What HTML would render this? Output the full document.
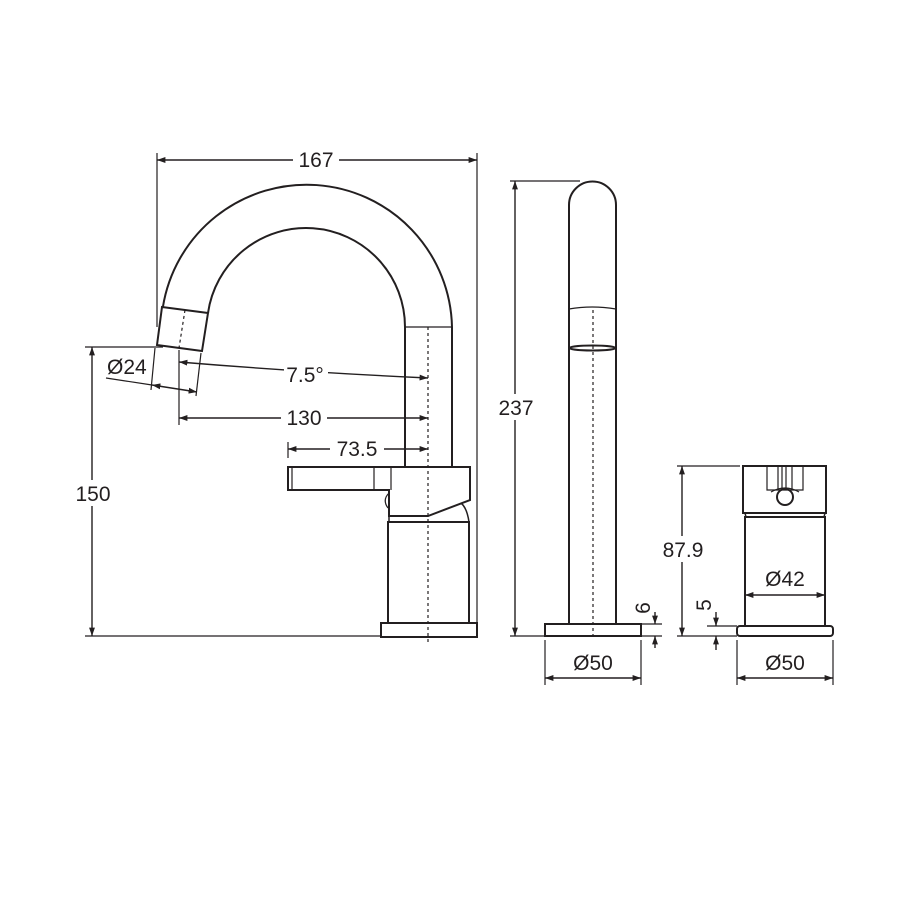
<!DOCTYPE html>
<html><head><style>
html,body{margin:0;padding:0;background:#fff;}
svg{display:block;}
text{font-family:"Liberation Sans",sans-serif;font-size:21px;fill:#231f20;}
</style></head><body>
<svg width="900" height="900" viewBox="0 0 900 900" xmlns="http://www.w3.org/2000/svg">
<defs>
<marker id="a" viewBox="0 0 10 10" refX="10" refY="5" markerWidth="6" markerHeight="6" orient="auto-start-reverse"><path d="M0,1.5 L10,5 L0,8.5 z" fill="#231f20"/></marker>
</defs>
<g stroke="#231f20" stroke-width="2" fill="none">
<!-- left mixer spout -->
<path d="M162.9,307 A145.5,145.5 0 0 1 452,327 L452,467"/>
<path d="M208,313 A99,99 0 0 1 405,327 L405,467"/>
<line x1="405" y1="327" x2="452" y2="327" stroke-width="1.2"/>
<path d="M162,307 L208,313 L202,351 L157,345 Z"/>
<line x1="185" y1="310" x2="179" y2="348" stroke-dasharray="3,3" stroke-width="1.2"/>
<!-- handle/body -->
<path d="M288,467 L470,467 L470,500 L428,516 L389,516 L389,490 L288,490 Z"/>
<line x1="374" y1="467" x2="374" y2="490" stroke-width="1.2"/>
<line x1="391" y1="467" x2="391" y2="490" stroke-width="1.2"/>
<line x1="292" y1="467" x2="292" y2="490" stroke-width="1.2"/>
<path d="M389,493 Q382,500 388,508" stroke-width="1.2"/>
<path d="M389,516 L389,522 L469,522 Q467,508 461,503" stroke-width="1.5"/>
<rect x="388" y="522" width="81" height="101"/>
<rect x="381" y="623" width="96" height="14"/>
<line x1="428" y1="327" x2="428" y2="642" stroke-dasharray="3,3" stroke-width="1.2"/>
<!-- extension lines -->
<line x1="157" y1="153" x2="157" y2="327" stroke-width="1.2"/>
<line x1="477" y1="153" x2="477" y2="628" stroke-width="1.2"/>
<line x1="85" y1="347" x2="163" y2="347" stroke-width="1.2"/>
<line x1="85" y1="636" x2="381" y2="636" stroke-width="1.2"/>
<line x1="179" y1="350" x2="179" y2="425" stroke-width="1.2"/>
<line x1="288" y1="442" x2="288" y2="458" stroke-width="1.2"/>
<line x1="155" y1="348" x2="151" y2="390" stroke-width="1.2"/>
<line x1="201" y1="353" x2="196" y2="396" stroke-width="1.2"/>
<line x1="106" y1="378" x2="152" y2="385" stroke-width="1.2"/>
<!-- dimension lines -->
<line x1="157" y1="160" x2="477" y2="160" stroke-width="1.4" marker-start="url(#a)" marker-end="url(#a)"/>
<line x1="92" y1="347" x2="92" y2="636" stroke-width="1.4" marker-start="url(#a)" marker-end="url(#a)"/>
<line x1="152" y1="385" x2="197" y2="392" stroke-width="1.4" marker-start="url(#a)" marker-end="url(#a)"/>
<path d="M179,362 Q300,372 428,378" stroke-width="1.4" marker-start="url(#a)" marker-end="url(#a)"/>
<line x1="179" y1="418" x2="428" y2="418" stroke-width="1.4" marker-start="url(#a)" marker-end="url(#a)"/>
<line x1="288" y1="449" x2="428" y2="449" stroke-width="1.4" marker-start="url(#a)" marker-end="url(#a)"/>
<!-- middle spout -->
<path d="M569,624 L569,205 A23.5,23.5 0 0 1 616,205 L616,624"/>
<path d="M569,309 Q592,305 616,309" stroke-width="1.2"/>
<ellipse cx="592.5" cy="348" rx="23" ry="2.5"/>
<rect x="545" y="624" width="96" height="12"/>
<line x1="593" y1="310" x2="593" y2="636" stroke-dasharray="3,3" stroke-width="1.2"/>
<line x1="510" y1="181" x2="580" y2="181" stroke-width="1.2"/>
<line x1="510" y1="636" x2="545" y2="636" stroke-width="1.2"/>
<line x1="515" y1="181" x2="515" y2="636" stroke-width="1.4" marker-start="url(#a)" marker-end="url(#a)"/>
<line x1="641" y1="624" x2="662" y2="624" stroke-width="1.2"/>
<line x1="641" y1="636" x2="662" y2="636" stroke-width="1.2"/>
<line x1="655" y1="612" x2="655" y2="624" stroke-width="1.4" marker-end="url(#a)"/>
<line x1="655" y1="648" x2="655" y2="636" stroke-width="1.4" marker-end="url(#a)"/>
<line x1="545" y1="640" x2="545" y2="685" stroke-width="1.2"/>
<line x1="641" y1="640" x2="641" y2="685" stroke-width="1.2"/>
<line x1="545" y1="678" x2="641" y2="678" stroke-width="1.4" marker-start="url(#a)" marker-end="url(#a)"/>
<!-- right mixer -->
<rect x="743" y="466" width="83" height="47"/>
<path d="M767,466 L767,490 L803,490 L803,466" stroke-width="1.2"/>
<line x1="778" y1="466" x2="778" y2="489" stroke-width="1.2"/>
<line x1="782" y1="466" x2="782" y2="489" stroke-width="1.2"/>
<line x1="786" y1="466" x2="786" y2="489" stroke-width="1.2"/>
<line x1="792" y1="466" x2="792" y2="489" stroke-width="1.2"/>
<path d="M771,492 Q785,484 799,492" stroke-width="1.2"/>
<circle cx="785" cy="497" r="8"/>
<path d="M745,513 L746,517 L824,517 L825,513" stroke-width="1.5"/>
<rect x="745" y="517" width="80" height="109"/>
<rect x="737" y="626" width="96" height="10" rx="3"/>
<line x1="677" y1="466" x2="740" y2="466" stroke-width="1.2"/>
<line x1="677" y1="636" x2="737" y2="636" stroke-width="1.2"/>
<line x1="707" y1="626" x2="737" y2="626" stroke-width="1.2"/>
<line x1="682" y1="466" x2="682" y2="636" stroke-width="1.4" marker-start="url(#a)" marker-end="url(#a)"/>
<line x1="716" y1="612" x2="716" y2="626" stroke-width="1.4" marker-end="url(#a)"/>
<line x1="716" y1="650" x2="716" y2="636" stroke-width="1.4" marker-end="url(#a)"/>
<line x1="745" y1="595" x2="825" y2="595" stroke-width="1.4" marker-start="url(#a)" marker-end="url(#a)"/>
<line x1="737" y1="640" x2="737" y2="685" stroke-width="1.2"/>
<line x1="833" y1="640" x2="833" y2="685" stroke-width="1.2"/>
<line x1="737" y1="678" x2="833" y2="678" stroke-width="1.4" marker-start="url(#a)" marker-end="url(#a)"/>
</g>
<!-- labels -->
<rect x="293" y="147" width="46" height="26" fill="#fff"/>
<text x="316" y="167" text-anchor="middle">167</text>
<rect x="77" y="480" width="36" height="26" fill="#fff"/>
<text x="93" y="501" text-anchor="middle">150</text>
<text x="107" y="374" font-size="20">Ø24</text>
<rect x="284" y="360" width="44" height="26" fill="#fff"/>
<text x="305" y="382" text-anchor="middle">7.5°</text>
<rect x="281" y="404" width="46" height="26" fill="#fff"/>
<text x="304" y="425" text-anchor="middle">130</text>
<rect x="330" y="435" width="54" height="26" fill="#fff"/>
<text x="357" y="456" text-anchor="middle">73.5</text>
<rect x="493" y="394" width="46" height="26" fill="#fff"/>
<text x="516" y="415" text-anchor="middle">237</text>
<rect x="654" y="536" width="58" height="26" fill="#fff"/>
<text x="683" y="557" text-anchor="middle">87.9</text>
<text x="593" y="670" text-anchor="middle">Ø50</text>
<text x="785" y="670" text-anchor="middle">Ø50</text>
<text x="785" y="586" text-anchor="middle">Ø42</text>
<text x="0" y="0" transform="translate(650,608) rotate(-90)" text-anchor="middle">6</text>
<text x="0" y="0" transform="translate(711,605) rotate(-90)" text-anchor="middle">5</text>
</svg>
</body></html>
